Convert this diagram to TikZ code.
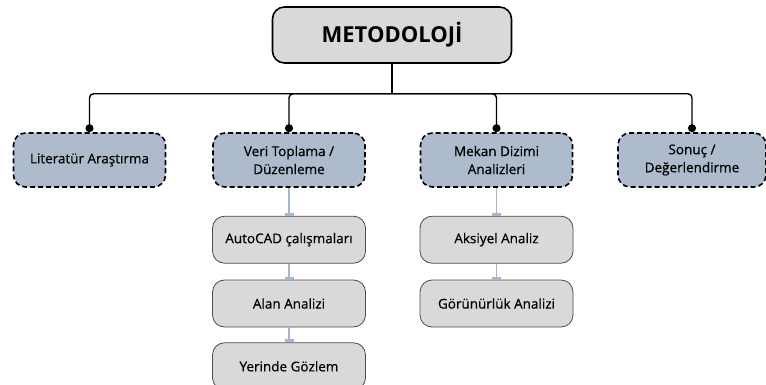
\documentclass[tikz,border=0pt]{standalone}
\usepackage{fontspec}
\setmainfont{Open Sans}
\newfontfamily\medfont{Open Sans}[FakeBold=0.6]
\usetikzlibrary{arrows.meta,positioning}
\definecolor{boxblue}{HTML}{AEBBCD}
\definecolor{boxgray}{HTML}{D9D9D9}
\definecolor{linkblue}{HTML}{A7B6CB}

\begin{document}
\begin{tikzpicture}[x=1pt,y=-1pt,node distance=16pt,semithick]
  \tikzstyle{head}=[draw=black,line width=1.6pt,fill=boxgray,rounded corners=12pt,minimum width=239pt,minimum height=56pt,font=\fontsize{22}{26}\selectfont\bfseries]
  \tikzstyle{phase}=[draw=black,line width=1.6pt,dash pattern=on 5pt off 3pt,fill=boxblue,rounded corners=12pt,minimum width=152pt,minimum height=54pt,align=center,font=\medfont\fontsize{13.5}{18}\selectfont]
  \tikzstyle{task}=[draw=black!70,line width=0.8pt,fill=boxgray,rounded corners=12pt,minimum width=153pt,minimum height=47pt,font=\medfont\fontsize{13.5}{16}\selectfont]
  \tikzstyle{branch}=[draw=black,line width=1.4pt,rounded corners=4pt,-{Circle[length=8pt]}]
  \tikzstyle{link}=[draw=linkblue,line width=1.5pt,-{Bar[width=9pt,line width=3pt]}]

  \useasboundingbox (0,0) rectangle (766,385);

  \node[head]  (met)   at (392,35)  {METODOLOJİ};
  \node[phase] (lit)   at (89.5,160) {Literatür Araştırma};
  \node[phase] (veri)  at (289,160)  {Veri Toplama /\\Düzenleme};
  \node[phase] (mekan) at (496.5,160) {Mekan Dizimi\\Analizleri};
  \node[phase,minimum width=148pt] (sonuc) at (692,160) {Sonuç /\\Değerlendirme};

  \node[task] (autocad) [below=28pt of veri]    {AutoCAD çalışmaları};
  \node[task] (alan)    [below=of autocad]      {Alan Analizi};
  \node[task] (yerinde) [below=15pt of alan]    {Yerinde Gözlem};
  \node[task] (aksiyel) [below=28pt of mekan]   {Aksiyel Analiz};
  \node[task] (gorunur) [below=of aksiyel]      {Görünürlük Analizi};

  % bus line under the title
  \coordinate (bus) at ([yshift=-30pt]met.south);
  \draw[line width=1.4pt] (met) -- (bus);
  \foreach \n in {lit,veri,mekan,sonuc}
    \draw[branch] (bus) -| (\n.north);

  \draw[link] (veri) -- (autocad);
  \draw[link] (autocad) -- (alan);
  \draw[link] (alan) -- (yerinde);
  \draw[link] (mekan) -- (aksiyel);
  \draw[link] (aksiyel) -- (gorunur);
\end{tikzpicture}
\end{document}
